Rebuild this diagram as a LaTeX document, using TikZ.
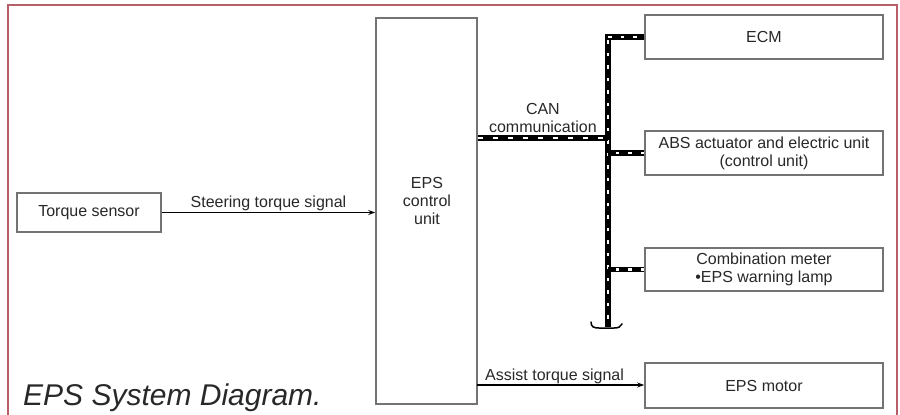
\documentclass[tikz,border=0pt]{standalone}
\usepackage{fontspec}
\setmainfont{Liberation Sans}
\usetikzlibrary{arrows.meta}
\definecolor{framered}{RGB}{185,95,105}
\definecolor{boxgray}{RGB}{115,115,115}
\definecolor{txt}{RGB}{40,40,40}
\tikzset{
  blk/.style={draw=boxgray, line width=1.6pt, fill=white, inner sep=0pt, align=center,
    text=txt, font=\fontsize{16}{18}\selectfont},
  lbl/.style={font=\fontsize{16}{18}\selectfont, text=txt, align=center, inner sep=2pt},
  sig/.style={line width=1.2pt, -{Stealth[length=7pt,width=5pt]}},
  busb/.style={line width=5.4pt, black},
  busw/.style={line width=2.4pt, white, dash pattern=on 3.5pt off 9pt},
}
\begin{document}
\begin{tikzpicture}[x=1pt,y=-1pt]
\useasboundingbox (0,0) rectangle (900,415);
% frame
\draw[framered, line width=2pt] (8,415) -- (8,5) -- (897,5) -- (897,415);
% blocks
\node[blk, minimum width=144pt, minimum height=39pt] (ts) at (89,212.5) {Torque sensor};
\node[blk, minimum width=101pt, minimum height=386pt] (eps) at (426.5,211) {};
\node[lbl] (epst) at (427,201) {EPS\\control\\unit};
\node[blk, minimum width=238pt, minimum height=44pt] (ecm) at (764,37) {ECM};
\node[blk, minimum width=238pt, minimum height=44pt] (abs) at (764,153) {ABS actuator and electric unit\\(control unit)};
\node[blk, minimum width=238pt, minimum height=43pt] (comb) at (764,269.5) {Combination meter\\{\textbullet}EPS warning lamp};
\node[blk, minimum width=238pt, minimum height=45pt] (mot) at (764,385.5) {EPS motor};
% signals
\coordinate (sa) at (ts.east);
\draw[sig] (sa) -- (sa -| eps.west) node[lbl, midway, above, yshift=-1pt] (stl) {Steering torque signal};
\coordinate (aa) at (477,385);
\draw[sig] (aa) -- (aa -| mot.west) node[lbl, midway, above, xshift=-6pt, yshift=-1pt] (atl) {Assist torque signal};
% CAN bus
\coordinate (bt) at (608,37);
\coordinate (bb) at (608,327);
\coordinate (cj) at (608,138);
\draw[busb] (ecm.west) -| (bb);
\draw[busw] ([yshift=-4pt]bb) -- (bt);
\draw[busw] (bt) -- (ecm.west);
\draw[busb] (eps.east |- cj) -- (cj) node[lbl, midway, above, yshift=1pt] (canl) {CAN\\communication};
\draw[busw, dash pattern=on 5pt off 10pt] (eps.east |- cj) -- (cj);
\draw[busb] (abs.west -| bt) -- (abs.west);
\draw[busw] (abs.west) -- (abs.west -| bt);
\draw[busb] (comb.west -| bt) -- (comb.west);
\draw[busw] (comb.west) -- (comb.west -| bt);
% bus end
\draw[line width=1.5pt, black, line cap=round]
  (591,322) .. controls (591,327) and (594,328) .. (599,328) -- (614,328)
  .. controls (618,328) and (621,327) .. (622,324);
% caption
\node[anchor=base west, inner sep=0pt, text=txt, font=\fontsize{30}{30}\selectfont\itshape] (cap) at (23,405) {EPS System Diagram.};
\end{tikzpicture}
\end{document}
